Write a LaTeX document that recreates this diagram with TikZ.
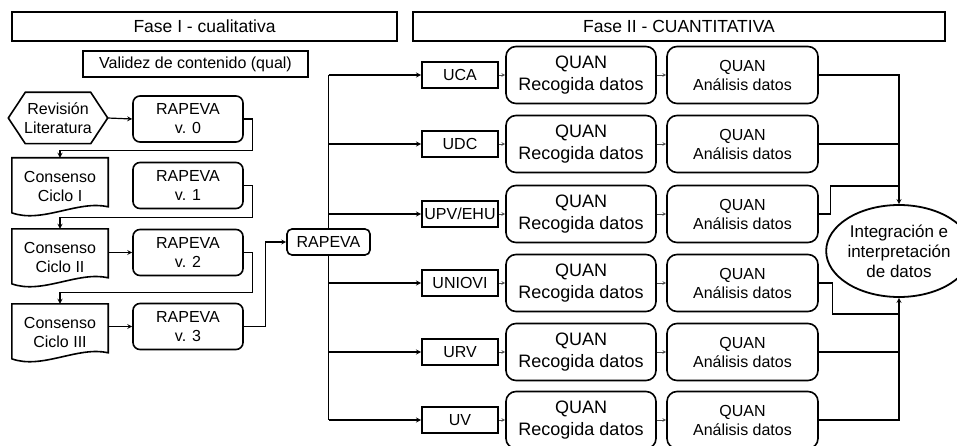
\documentclass[tikz,border=0pt]{standalone}
\usepackage{fontspec}
\setmainfont{Liberation Sans}
\usetikzlibrary{shapes.geometric}

\begin{document}
\begin{tikzpicture}[x=1pt, y=-1pt, >=stealth,
  fase box/.style={draw, line width=1.8pt, minimum width=#1, minimum height=29pt, inner sep=0pt, font=\fontsize{17.5}{20}\selectfont},
  plain text/.style={align=center, inner sep=0pt, font=\fontsize{16}{19}\selectfont},
  rapeva box/.style={plain text, draw, line width=1.6pt, rounded corners=7pt, minimum width=110pt, minimum height=46pt},
  uni box/.style={plain text, draw, line width=2pt, minimum width=76pt, minimum height=26pt},
  rec box/.style={align=center, inner sep=0pt, font=\fontsize{18}{22}\selectfont, draw, line width=1.6pt, rounded corners=10pt, minimum width=150pt, minimum height=57pt},
  ana box/.style={rec box, font=\fontsize{16}{19}\selectfont, minimum width=151pt},
  link/.style={line width=1.2pt},
  thin link/.style={->, line width=0.7pt, gray!60!black}]

\useasboundingbox (0,0) rectangle (957,446);

\node [fase box=385pt] (fase-1) at (204.5,26.5) {Fase I - cualitativa};
\node [fase box=532pt] (fase-2) at (679,26.5) {Fase II - CUANTITATIVA};
\node [plain text, draw, line width=1.6pt, minimum width=225pt, minimum height=26pt] (validez) at (195.5,64) {Validez de contenido (qual)};

\node [plain text, minimum width=99pt, minimum height=51pt] (rev) at (58,118) {Revisión\\Literatura};
\draw [line width=1.6pt] (rev.west) -- ([xshift=17pt]rev.north west) -- ([xshift=-17pt]rev.north east)
  -- (rev.east) -- ([xshift=-17pt]rev.south east) -- ([xshift=17pt]rev.south west) -- cycle;

\foreach \v/\y in {0/119,1/185.5,2/252.5,3/326.5}
  \node [rapeva box] (rap-\v) at (188,\y) {RAPEVA\\v. \v};

\foreach \c/\y in {I/186,II/257,III/332}
  \node [plain text, minimum width=96pt, minimum height=56pt] (ciclo-\c) at (60,\y) {Consenso\\Ciclo \c};
\foreach \c in {I,II,III}
  \draw [line width=1.6pt] (ciclo-\c.north west) -- (ciclo-\c.north east) -- ++(0,49)
    .. controls +(-30,-7) and +(30,11) .. ([yshift=-55pt]ciclo-\c.north west) -- cycle;

\draw [->, link] (rev.east) -- (rap-0.west);
\draw [->, link] (rap-0.east) -- ++(9,0) |- ([yshift=7pt]ciclo-I.north) -- (ciclo-I.north);
\draw [->, link] (rap-1.east) -- ++(9,0) |- ([yshift=11pt]ciclo-II.north) -- (ciclo-II.north);
\draw [->, link] (ciclo-II.east |- rap-2) -- (rap-2.west);
\draw [->, link] (rap-2.east) -- ++(9,0) |- ([yshift=11pt]ciclo-III.north) -- (ciclo-III.north);
\draw [->, link] (ciclo-III.east |- rap-3) -- (rap-3.west);

\node [plain text, draw, line width=1.6pt, rounded corners=5pt, minimum width=83pt, minimum height=26pt] (rapeva) at (328.5,242) {RAPEVA};
\draw [->, link] (rap-3.east) -- ++(22,0) |- (rapeva.west);

\foreach \u/\y [count=\i] in {UCA/75,UDC/144,{UPV/EHU}/214,UNIOVI/283,URV/352,UV/420} {
  \node [uni box] (uni-\i) at (460,\y) {\u};
  \node [rec box] (rec-\i) at (581,\y) {QUAN\\Recogida datos};
  \node [ana box] (ana-\i) at (742.5,\y) {QUAN\\Análisis datos};
  \draw [->, link] (rapeva.north |- uni-\i) -- (uni-\i.west);
  \draw [thin link] (uni-\i) -- (rec-\i);
  \draw [thin link] (rec-\i) -- (ana-\i);
}
\draw [link] (rapeva.north) -- (rapeva.north |- uni-1);
\draw [link] (rapeva.south) -- (rapeva.south |- uni-6);

\node [ellipse, draw, line width=1.8pt, align=center, inner sep=0pt, font=\fontsize{17}{20}\selectfont,
  minimum width=112pt, minimum height=92pt] (integ) at (899,251) {Integración e\\interpretación\\de datos};

\draw [->, link] (ana-1.east) -| (integ.north);
\draw [link] (ana-2.east) -- (ana-2.east -| integ.north);
\draw [link] (ana-3.east) -- ++(12,0) |- ([yshift=18pt]integ.north);
\draw [link] (ana-4.east) -- ++(14,0) |- ([yshift=-16pt]integ.south);
\draw [link] (ana-5.east) -- (ana-5.east -| integ.south);
\draw [->, link] (ana-6.east) -| (integ.south);

\end{tikzpicture}
\end{document}
